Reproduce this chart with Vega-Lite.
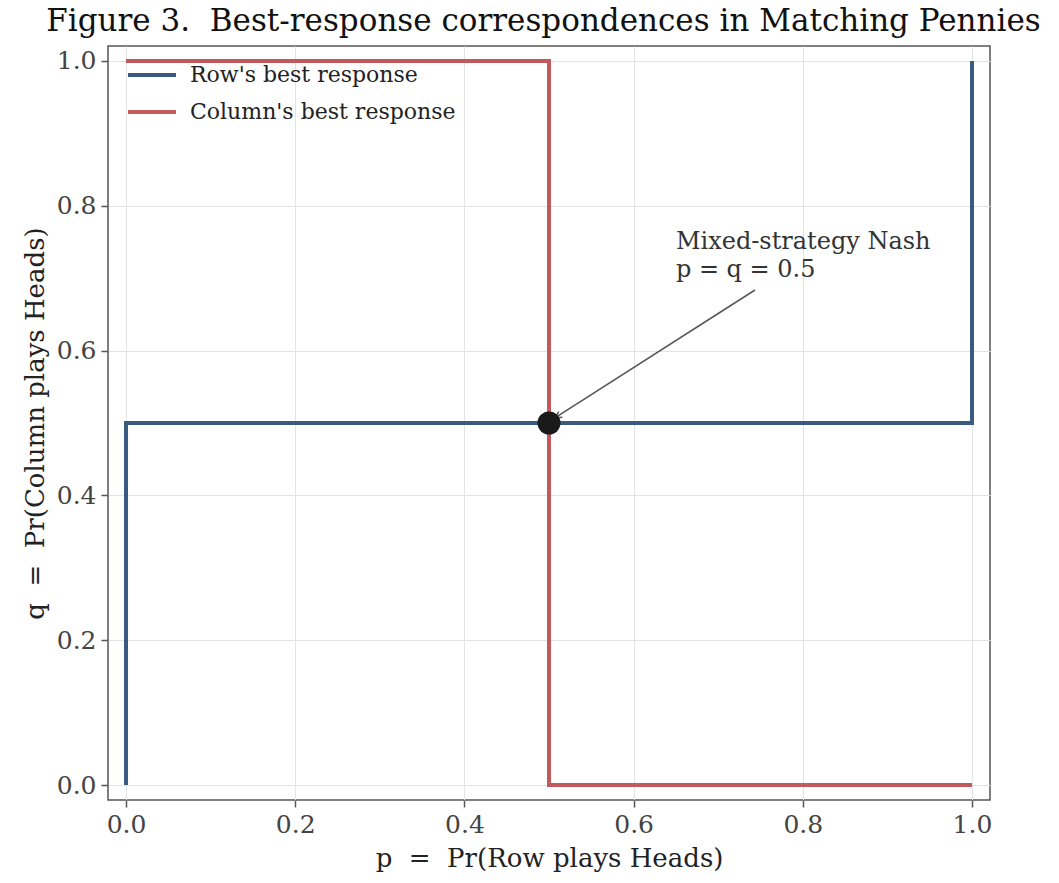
{
  "$schema": "https://vega.github.io/schema/vega-lite/v6.json",
  "width": 882,
  "height": 754,
  "autosize": {"type": "none"},
  "padding": {"left": 108, "top": 46, "right": 69, "bottom": 83},
  "background": "white",
  "title": {
    "text": "Figure 3.\u00a0 Best-response correspondences in Matching Pennies",
    "font": "DejaVu Serif",
    "fontSize": 31,
    "fontWeight": "normal",
    "color": "#111",
    "anchor": "middle",
    "dx": -5.5,
    "offset": 8
  },
  "config": {
    "view": {"stroke": "#555", "strokeWidth": 1.5},
    "font": "DejaVu Serif",
    "axis": {
      "gridColor": "#e3e3e3",
      "gridWidth": 1,
      "domain": false,
      "tickColor": "#555",
      "tickSize": 7,
      "tickWidth": 1.5,
      "labelFont": "DejaVu Serif",
      "labelFontSize": 25,
      "labelColor": "#444",
      "titleFont": "DejaVu Serif",
      "titleFontSize": 26,
      "titleFontWeight": "normal",
      "titleColor": "#222"
    }
  },
  "datasets": {
    "lines": [
      {"series": "Row's best response", "ord": 1, "p": 0, "q": 0},
      {"series": "Row's best response", "ord": 2, "p": 0, "q": 0.5},
      {"series": "Row's best response", "ord": 3, "p": 1, "q": 0.5},
      {"series": "Row's best response", "ord": 4, "p": 1, "q": 1},
      {"series": "Column's best response", "ord": 1, "p": 0, "q": 1},
      {"series": "Column's best response", "ord": 2, "p": 0.5, "q": 1},
      {"series": "Column's best response", "ord": 3, "p": 0.5, "q": 0},
      {"series": "Column's best response", "ord": 4, "p": 1, "q": 0}
    ],
    "nash": [{"p": 0.5, "q": 0.5}],
    "arrow": [{"p": 0.7435, "q": 0.6837, "p2": 0.507, "q2": 0.507}],
    "note": [
      {"p": 0.65, "q": 0.75, "label": "Mixed-strategy Nash"},
      {"p": 0.65, "q": 0.711, "label": "p = q = 0.5"}
    ]
  },
  "layer": [
    {
      "data": {"name": "lines"},
      "mark": {"type": "line", "strokeWidth": 4, "strokeCap": "butt", "strokeJoin": "miter", "clip": true},
      "encoding": {
        "x": {
          "field": "p", "type": "quantitative",
          "scale": {"domain": [-0.0213, 1.0213], "nice": false, "zero": false},
          "axis": {"values": [0, 0.2, 0.4, 0.6, 0.8, 1.0], "format": ".1f", "title": "p \u00a0=\u00a0 Pr(Row plays Heads)", "labelPadding": 5, "titlePadding": 8}
        },
        "y": {
          "field": "q", "type": "quantitative",
          "scale": {"domain": [-0.0207, 1.0207], "nice": false, "zero": false},
          "axis": {"values": [0, 0.2, 0.4, 0.6, 0.8, 1.0], "format": ".1f", "title": "q \u00a0=\u00a0 Pr(Column plays Heads)", "labelPadding": 5, "titlePadding": 8}
        },
        "color": {
          "field": "series", "type": "nominal",
          "scale": {"domain": ["Row's best response", "Column's best response"], "range": ["#3a5a80", "#c05a5c"]},
          "legend": {
            "title": null,
            "orient": "none",
            "legendX": 18,
            "legendY": 3,
            "padding": 0,
            "symbolType": "stroke",
            "symbolSize": 2304,
            "symbolStrokeWidth": 4,
            "labelFont": "DejaVu Serif",
            "labelFontSize": 22,
            "labelColor": "#222",
            "labelLimit": 500,
            "rowPadding": -21,
            "labelOffset": 12
          }
        },
        "order": {"field": "ord", "type": "quantitative"}
      }
    },
    {
      "data": {"name": "arrow"},
      "mark": {"type": "rule", "color": "#555", "strokeWidth": 1.5},
      "encoding": {
        "x": {"field": "p", "type": "quantitative"},
        "y": {"field": "q", "type": "quantitative"},
        "x2": {"field": "p2"},
        "y2": {"field": "q2"}
      }
    },
    {
      "data": {"name": "arrow"},
      "mark": {"type": "point", "shape": "M -0.45 0.9 L 0 0 L 0.45 0.9", "filled": false, "stroke": "#555", "strokeWidth": 1.5, "size": 220, "angle": 237.4, "opacity": 1},
      "encoding": {
        "x": {"field": "p2", "type": "quantitative"},
        "y": {"field": "q2", "type": "quantitative"}
      }
    },
    {
      "data": {"name": "nash"},
      "mark": {"type": "circle", "color": "#1a1a1a", "size": 530, "opacity": 1},
      "encoding": {
        "x": {"field": "p", "type": "quantitative"},
        "y": {"field": "q", "type": "quantitative"}
      }
    },
    {
      "data": {"name": "note"},
      "mark": {"type": "text", "align": "left", "baseline": "middle", "font": "DejaVu Serif", "fontSize": 24, "color": "#333"},
      "encoding": {
        "x": {"field": "p", "type": "quantitative"},
        "y": {"field": "q", "type": "quantitative"},
        "text": {"field": "label"}
      }
    }
  ]
}
